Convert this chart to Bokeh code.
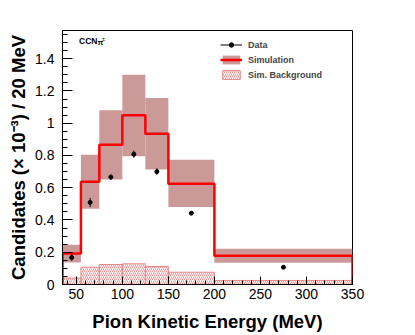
import numpy as np
from bokeh.plotting import figure
from bokeh.models import (ColumnDataSource, Range1d, SingleIntervalTicker,
                          CustomJSTickFormatter, Legend, LegendItem, Label)
from bokeh.embed import file_html
from bokeh.resources import INLINE

# ---- data ----
bin_edges = [35, 55, 75, 100, 125, 150, 200, 350]
sim_central = [0.192, 0.637, 0.867, 1.05, 0.935, 0.625, 0.178]
sim_upper = [0.246, 0.805, 1.08, 1.30, 1.156, 0.773, 0.221]
sim_lower = [0.136, 0.47, 0.651, 0.796, 0.713, 0.48, 0.135]
background = [0.04, 0.107, 0.124, 0.128, 0.112, 0.076, 0.025]
data_x = [45, 65, 87.5, 112.5, 137.5, 175, 275]
data_y = [0.167, 0.509, 0.666, 0.808, 0.70, 0.442, 0.107]
data_err = [0.02, 0.028, 0.018, 0.022, 0.02, 0.01, 0.005]

FONT = "Liberation Sans"

p = figure(frame_width=290, frame_height=254,
           min_border_left=62, min_border_top=30, min_border_right=50,
           min_border_bottom=51,
           x_range=Range1d(35, 350), y_range=Range1d(0, 1.575),
           output_backend="svg", toolbar_location=None)

left = bin_edges[:-1]
right = bin_edges[1:]

# simulation uncertainty band
band_src = ColumnDataSource(dict(left=left, right=right, top=sim_upper, bottom=sim_lower))
band = p.quad(left="left", right="right", top="top", bottom="bottom", source=band_src,
              fill_color="#c99393", fill_alpha=0.95, line_color=None)

# background hatched histogram
bkg_src = ColumnDataSource(dict(left=left, right=right, top=background,
                                bottom=[0] * len(background)))
bkg = p.quad(left="left", right="right", top="top", bottom="bottom", source=bkg_src,
             fill_color=None, fill_alpha=0, hatch_pattern="/", hatch_color="#e98a8a",
             hatch_scale=4, hatch_weight=0.9, line_color="#e88888", line_width=1)

# simulation central value step line
step_x = list(np.repeat(bin_edges, 2))
step_y = [0] + list(np.repeat(sim_central, 2)) + [0]
sim_line = p.line(step_x, step_y, line_color="#ff0000", line_width=2.5)

# data with error bars
d_src = ColumnDataSource(dict(x=data_x, y=data_y,
                              lo=[y - e for y, e in zip(data_y, data_err)],
                              hi=[y + e for y, e in zip(data_y, data_err)]))
err = p.segment(x0="x", x1="x", y0="lo", y1="hi", source=d_src,
                line_color="black", line_width=1)
pts = p.scatter(x="x", y="y", source=d_src, size=4, color="black")

# axes styling
p.xgrid.visible = False
p.ygrid.visible = False
p.outline_line_color = "black"
p.outline_line_width = 1
p.background_fill_color = "white"
p.border_fill_color = "white"

p.xaxis.ticker = SingleIntervalTicker(interval=50, num_minor_ticks=5)
p.yaxis.ticker = SingleIntervalTicker(interval=0.2, num_minor_ticks=4)
p.yaxis.formatter = CustomJSTickFormatter(code="return String(Math.round(tick*100)/100)")

for ax in (p.xaxis[0], p.yaxis[0]):
    ax.major_tick_out = 0
    ax.minor_tick_out = 0
    ax.axis_line_color = "black"
    ax.major_tick_line_color = "black"
    ax.minor_tick_line_color = "black"
    ax.major_label_text_font = FONT
    ax.major_label_text_font_size = "14px"
    ax.major_label_text_color = "black"
    ax.axis_label_text_font = FONT
    ax.axis_label_text_font_size = "18.5px"
    ax.axis_label_text_font_style = "bold"
    ax.axis_label_text_color = "black"

p.xaxis.major_tick_in = 8
p.xaxis.minor_tick_in = 4
p.yaxis.major_tick_in = 10
p.yaxis.minor_tick_in = 5
p.xaxis.major_label_standoff = 4
p.yaxis.major_label_standoff = 8
p.xaxis.axis_label_standoff = 9
p.yaxis.axis_label_standoff = 3
p.xaxis.axis_label = "Pion Kinetic Energy (MeV)"
p.yaxis.axis_label = "Candidates (\u00d7 10\u207b\u00b3) / 20 MeV"

# legend
legend = Legend(items=[
    LegendItem(label="Data", renderers=[err, pts]),
    LegendItem(label="Simulation", renderers=[band, sim_line]),
    LegendItem(label="Sim. Background", renderers=[bkg]),
], location=(158, 204), glyph_width=22, glyph_height=11, label_height=11,
    label_text_font=FONT, label_text_font_size="9px", label_text_font_style="bold",
    label_standoff=6, spacing=4, padding=4, border_line_color=None,
    background_fill_alpha=0)
p.add_layout(legend)

p.add_layout(Label(x=53, y=1.507, text="CCN", text_font=FONT,
                   text_font_size="8.5px", text_font_style="bold",
                   text_baseline="middle", text_color="black"))
p.add_layout(Label(x=53, y=1.507, x_offset=18.5, y_offset=-1, text="\u03c0",
                   text_font=FONT, text_font_size="7.5px", text_font_style="bold",
                   text_baseline="middle", text_color="black"))
p.add_layout(Label(x=53, y=1.507, x_offset=23, y_offset=2, text="\u00b1",
                   text_font=FONT, text_font_size="5.5px",
                   text_baseline="middle", text_color="black"))

open("out.html", "w").write(file_html(p, INLINE))
